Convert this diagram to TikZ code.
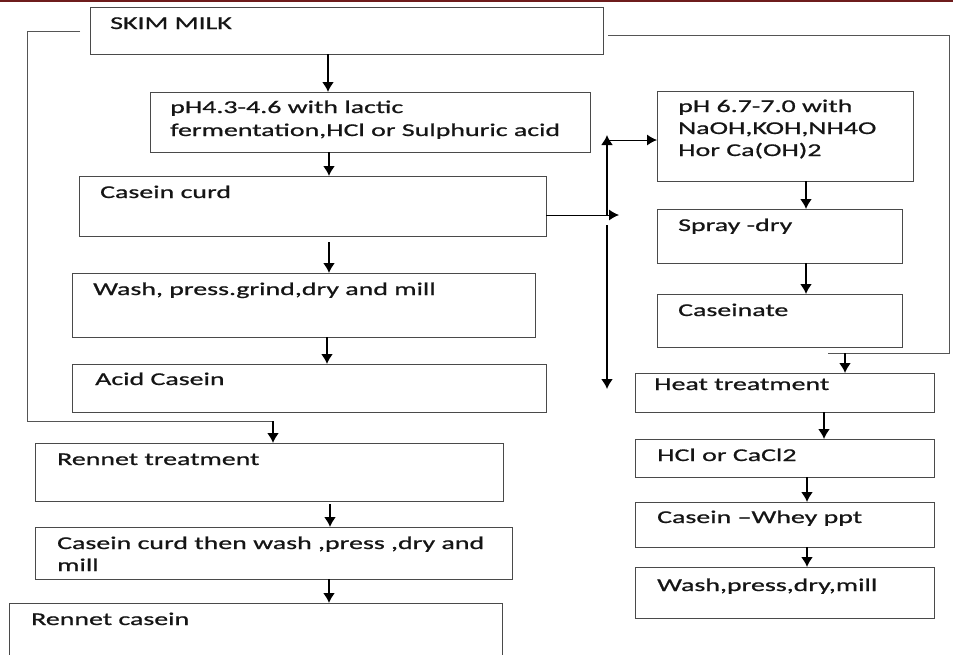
\documentclass[tikz,border=0pt]{standalone}
\usepackage{fontspec}
\setmainfont{Carlito}[FakeStretch=1.55,FakeBold=0.8]
\usetikzlibrary{arrows.meta}
\definecolor{boxgray}{HTML}{4A4A4A}
\definecolor{linegray}{HTML}{555555}
\definecolor{txt}{HTML}{151515}
\definecolor{topred}{HTML}{6E1C1C}
\tikzset{
  box/.style={draw=boxgray, line width=1pt, anchor=north west, inner sep=0pt, outer sep=0pt},
  lbl/.style={anchor=base west, inner sep=0pt, text=txt, font=\fontsize{18}{23}\selectfont},
  arr/.style={-{Latex[length=10pt,width=12pt]}, line width=1.8pt, draw=black},
  harr/.style={-{Latex[length=10pt,width=11pt]}, line width=1pt, draw=black},
  conn/.style={draw=linegray, line width=1pt},
}
\begin{document}
\begin{tikzpicture}[x=1pt,y=-1pt]
\useasboundingbox (0,0) rectangle (953,654);
\fill[white] (0,0) rectangle (953,654);
\draw[topred, line width=2pt] (0,1) -- (953,1);

% ---- left column boxes
\node[box, minimum width=513pt, minimum height=47pt] (skim) at (90,7) {};
\node[lbl] (skimt) at (110,29) {SKIM MILK};
\node[box, minimum width=440pt, minimum height=60pt] (ph1) at (150,92) {};
\node[lbl] (ph1a) at (170,113) {pH4.3-4.6 with lactic};
\node[lbl] (ph1b) at (170,136) {fermentation,HCl or Sulphuric acid};
\node[box, minimum width=467pt, minimum height=60pt] (curd) at (79,176) {};
\node[lbl] (curdt) at (100,198) {Casein curd};
\node[box, minimum width=463pt, minimum height=64pt] (wash) at (72,273) {};
\node[lbl] (washt) at (93,295) {Wash, press.grind,dry and mill};
\node[box, minimum width=474pt, minimum height=48pt] (acid) at (72,364) {};
\node[lbl] (acidt) at (95,385) {Acid Casein};
\node[box, minimum width=468pt, minimum height=58pt] (rennet) at (35,443) {};
\node[lbl] (rennett) at (57,465) {Rennet treatment};
\node[box, minimum width=477pt, minimum height=52pt] (curd2) at (35,527) {};
\node[lbl] (curd2a) at (57,549) {Casein curd then wash ,press ,dry and};
\node[lbl] (curd2b) at (57,571) {mill};
\node[box, minimum width=493pt, minimum height=60pt] (rcasein) at (9,603) {};
\node[lbl] (rcaseint) at (31,625) {Rennet casein};

% ---- right column boxes
\node[box, minimum width=256pt, minimum height=90pt] (ph2) at (657,91) {};
\node[lbl] (ph2a) at (678,112) {pH 6.7-7.0 with};
\node[lbl] (ph2b) at (678,134) {NaOH,KOH,NH4O};
\node[lbl] (ph2c) at (678,156) {Hor Ca(OH)2};
\node[box, minimum width=245pt, minimum height=54pt] (spray) at (657,209) {};
\node[lbl] (sprayt) at (678,231) {Spray -dry};
\node[box, minimum width=245pt, minimum height=53pt] (caseinate) at (657,294) {};
\node[lbl] (caseinatet) at (678,316) {Caseinate};
\node[box, minimum width=299pt, minimum height=39pt] (heat) at (635,373) {};
\node[lbl] (heatt) at (654,390) {Heat treatment};
\node[box, minimum width=299pt, minimum height=38pt] (hcl) at (635,439) {};
\node[lbl] (hclt) at (657,461) {HCl or CaCl2};
\node[box, minimum width=299pt, minimum height=45pt] (whey) at (635,502) {};
\node[lbl] (wheyt) at (657,523) {Casein \textendash Whey ppt};
\node[box, minimum width=299pt, minimum height=51pt] (wash2) at (635,567) {};
\node[lbl] (wash2t) at (657,591) {Wash,press,dry,mill};

% ---- left column arrows
\draw[arr] (skim.south -| 328,0) -- (ph1.north -| 328,0);
\draw[arr] (ph1.south -| 329,0) -- (curd.north -| 329,0);
\coordinate (w1) at (329,242);
\draw[arr] (w1) -- (wash.north -| w1);
\coordinate (a1) at (327,337);
\draw[arr] (a1) -- (acid.north -| a1);
\coordinate (r1) at (330,504);
\draw[arr] (r1) -- (curd2.north -| r1);
\draw[arr] (curd2.south -| 329,0) -- (rcasein.north -| 329,0);

% ---- left loop to rennet treatment
\coordinate (lA) at (80,31);
\coordinate (lB) at (27,421);
\coordinate (lC) at (273,421);
\draw[conn] (lA) -| (lB) -- (lC);
\draw[arr] (lC) -- (rennet.north -| lC);

% ---- central double arrow
\coordinate (vmid) at (607,215);
\coordinate (vtop) at (607,135);
\coordinate (vh) at (607,140);
\coordinate (vlow) at (607,225);
\coordinate (vbot) at (607,389);
\coordinate (cj) at (619,215);
\draw[arr] (vmid) -- (vtop);
\draw[harr] (vh) -- (ph2.west |- vh);
\draw[harr] (curd.east |- cj) -- (cj);
\draw[arr] (vlow) -- (vbot);

% ---- right column arrows
\draw[arr] (ph2.south -| 806,0) -- (spray.north -| 806,0);
\draw[arr] (spray.south -| 806,0) -- (caseinate.north -| 806,0);
\draw[arr] (heat.south -| 824,0) -- (hcl.north -| 824,0);
\draw[arr] (hcl.south -| 807,0) -- (whey.north -| 807,0);
\draw[arr] (whey.south -| 807,0) -- (wash2.north -| 807,0);

% ---- right loop to heat treatment
\coordinate (rA) at (608,35);
\coordinate (rB) at (949,353);
\coordinate (rC) at (828,353);
\coordinate (rD) at (845,353);
\draw[conn] (rA) -| (rB) -- (rC);
\draw[arr] (rD) -- (heat.north -| rD);
\end{tikzpicture}
\end{document}
